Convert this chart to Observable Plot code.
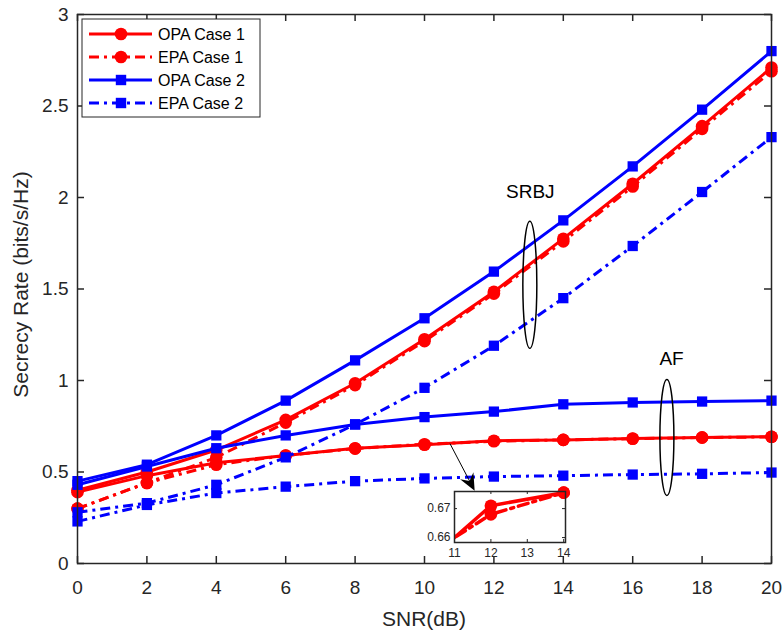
<!DOCTYPE html>
<html>
<head>
<meta charset="utf-8">
<script src="https://cdn.jsdelivr.net/npm/d3@7"></script>
<script src="https://cdn.jsdelivr.net/npm/@observablehq/plot@0.6"></script>
<style>
  html, body { margin: 0; padding: 0; background: #fff; }
  #chart { position: relative; width: 784px; height: 631px; font-family: "Liberation Sans", Arial, sans-serif; }
  #inset { position: absolute; left: 420px; top: 487px; }
</style>
</head>
<body>
<div id="chart"><div id="inset"></div></div>
<script>
// SNR grid (dB)
const snr = [0, 2, 4, 6, 8, 10, 12, 14, 16, 18, 20];

// Secrecy rate, SRBJ scheme
const srbjOpa1 = [0.40, 0.50, 0.62, 0.785, 0.985, 1.225, 1.485, 1.775, 2.075, 2.39, 2.71];
const srbjEpa1 = [0.30, 0.44, 0.58, 0.77, 0.975, 1.215, 1.475, 1.76, 2.06, 2.375, 2.69];
const srbjOpa2 = [0.45, 0.54, 0.70, 0.89, 1.11, 1.34, 1.595, 1.875, 2.17, 2.48, 2.80];
const srbjEpa2 = [0.28, 0.33, 0.43, 0.58, 0.76, 0.96, 1.19, 1.45, 1.735, 2.03, 2.33];

// Secrecy rate, AF scheme
const afOpa1 = [0.39, 0.48, 0.55, 0.59, 0.63, 0.649, 0.671, 0.6755, 0.683, 0.689, 0.693];
const afEpa1 = [0.30, 0.44, 0.54, 0.59, 0.628, 0.652, 0.668, 0.6755, 0.682, 0.688, 0.692];
const afOpa2 = [0.43, 0.53, 0.63, 0.70, 0.76, 0.80, 0.83, 0.87, 0.88, 0.885, 0.89];
const afEpa2 = [0.23, 0.32, 0.385, 0.42, 0.45, 0.465, 0.475, 0.48, 0.486, 0.49, 0.497];

// Legend entries
const seriesNames = ["OPA Case 1", "EPA Case 1", "OPA Case 2", "EPA Case 2"];

// Axis ticks
const xTicks = [0, 2, 4, 6, 8, 10, 12, 14, 16, 18, 20];
const yTicks = [0, 0.5, 1, 1.5, 2, 2.5, 3];
const insetXTicks = [11, 12, 13, 14];
const insetYTicks = [0.66, 0.67];

// Group labels and their enclosing ellipses (data units)
const groupLabels = [
  {label: "SRBJ", x: 13.05, y: 2.03},
  {label: "AF", x: 17.12, y: 1.12}
];
const groupEllipses = [
  {x: 13.05, y: 1.52},
  {x: 17.0, y: 0.686}
];
// Arrow pointing from the AF curves to the zoomed view
const arrowFrom = [10.75, 0.652];
const arrowTo = [11.46, 0.395];

const RED = "#ff0000", BLUE = "#0000ff", AX = "#262626";
const DASHDOT = "10,5,3,5";

const styles = [
  {name: seriesNames[0], color: RED, symbol: "circle", dash: null, groups: [srbjOpa1, afOpa1]},
  {name: seriesNames[1], color: RED, symbol: "circle", dash: DASHDOT, groups: [srbjEpa1, afEpa1]},
  {name: seriesNames[2], color: BLUE, symbol: "square", dash: null, groups: [srbjOpa2, afOpa2]},
  {name: seriesNames[3], color: BLUE, symbol: "square", dash: DASHDOT, groups: [srbjEpa2, afEpa2]}
];

function rowsOf(values, xs = snr) {
  return values.map((v, i) => ({x: xs[i], y: v}));
}

const W = 784, H = 631, mL = 77, mR = 13, mT = 14, mB = 68;
const innerW = W - mL - mR, innerH = H - mT - mB;
const TICK = 7;

const seriesMarks = [];
for (const s of styles) {
  for (const g of s.groups) {
    const rows = rowsOf(g);
    seriesMarks.push(Plot.line(rows, {x: "x", y: "y", stroke: s.color, strokeWidth: 3,
      strokeDasharray: s.dash, strokeLinejoin: "round", strokeLinecap: "butt"}));
    seriesMarks.push(Plot.dot(rows, {x: "x", y: "y", fill: s.color, stroke: "none",
      symbol: s.symbol, r: s.symbol === "circle" ? 6.3 : 5.8}));
  }
}

const chart = Plot.plot({
  width: W, height: H,
  marginLeft: mL, marginRight: mR, marginTop: mT, marginBottom: mB,
  style: {fontFamily: "'Liberation Sans', Arial, sans-serif", background: "#fff", color: AX},
  x: {domain: [0, 20]},
  y: {domain: [0, 3]},
  marks: [
    // inward ticks on all four sides
    Plot.tickX(xTicks, {x: d => d, insetTop: innerH - TICK, stroke: AX, strokeWidth: 1.5}),
    Plot.tickX(xTicks, {x: d => d, insetBottom: innerH - TICK, stroke: AX, strokeWidth: 1.5}),
    Plot.tickY(yTicks, {y: d => d, insetRight: innerW - TICK, stroke: AX, strokeWidth: 1.5}),
    Plot.tickY(yTicks, {y: d => d, insetLeft: innerW - TICK, stroke: AX, strokeWidth: 1.5}),
    ...seriesMarks,
    Plot.text(groupLabels, {x: "x", y: "y", text: "label", fontSize: 19, fill: "#000",
      textAnchor: "middle", lineAnchor: "middle"}),
    Plot.frame({stroke: AX, strokeWidth: 1.5}),
    Plot.axisX({ticks: xTicks, tickSize: 0, tickPadding: 17, fontSize: 19, label: null, fill: AX}),
    Plot.axisY({ticks: yTicks, tickSize: 0, tickPadding: 9, fontSize: 19, label: null, fill: AX,
      tickFormat: d => String(d)})
  ]
});

document.getElementById("chart").prepend(chart);

const svg = d3.select(chart);
const sx = chart.scale("x"), sy = chart.scale("y");
const px = v => sx.apply(v), py = v => sy.apply(v);

// axis titles
svg.append("text").attr("x", mL + innerW / 2).attr("y", 626)
  .attr("text-anchor", "middle").attr("font-size", 21).attr("fill", AX)
  .text("SNR(dB)");
svg.append("text").attr("transform", `translate(28,${mT + innerH / 2 - 4}) rotate(-90)`)
  .attr("text-anchor", "middle").attr("font-size", 21).attr("fill", AX)
  .text("Secrecy Rate (bits/s/Hz)");

// ellipses grouping the curves of each scheme
svg.append("ellipse").attr("cx", px(groupEllipses[0].x)).attr("cy", py(groupEllipses[0].y))
  .attr("rx", 7).attr("ry", 63.5).attr("fill", "none").attr("stroke", "#000").attr("stroke-width", 1.5);
svg.append("ellipse").attr("cx", px(groupEllipses[1].x)).attr("cy", py(groupEllipses[1].y))
  .attr("rx", 7).attr("ry", 58).attr("fill", "none").attr("stroke", "#000").attr("stroke-width", 1.5);

// legend
const lg = svg.append("g").attr("text-anchor", "start");
lg.append("rect").attr("x", 82).attr("y", 19).attr("width", 178).attr("height", 98)
  .attr("fill", "#fff").attr("stroke", AX).attr("stroke-width", 1);
styles.forEach((s, i) => {
  const yy = 34 + i * 23;
  lg.append("line").attr("x1", 89).attr("x2", 152).attr("y1", yy).attr("y2", yy)
    .attr("stroke", s.color).attr("stroke-width", 3).attr("stroke-dasharray", s.dash);
  if (s.symbol === "circle") {
    lg.append("circle").attr("cx", 121).attr("cy", yy).attr("r", 6.3).attr("fill", s.color);
  } else {
    lg.append("rect").attr("x", 121 - 5.2).attr("y", yy - 5.2).attr("width", 10.4).attr("height", 10.4).attr("fill", s.color);
  }
  lg.append("text").attr("x", 158).attr("y", yy).attr("dy", "0.36em").attr("text-anchor", "start")
    .attr("font-size", 16).attr("fill", "#000").text(s.name);
});

// zoomed view of the AF, case 1 curves
const iW = 151, iH = 75, iL = 34, iR = 6, iT = 4, iB = 20;
const iInnerW = iW - iL - iR, iInnerH = iH - iT - iB;
const insetMarks = [];
for (const s of styles.slice(0, 2)) {
  const rows = rowsOf(s.groups[1]).filter(d => d.x >= 10 && d.x <= 14);
  insetMarks.push(Plot.line(rows, {x: "x", y: "y", stroke: s.color, strokeWidth: 3.5,
    strokeDasharray: s.dash, clip: true}));
  insetMarks.push(Plot.dot(rows.filter(d => d.x >= 11), {x: "x", y: "y", fill: s.color, r: 6.3}));
}
const inset = Plot.plot({
  width: iW, height: iH, marginLeft: iL, marginRight: iR, marginTop: iT, marginBottom: iB,
  style: {fontFamily: "'Liberation Sans', Arial, sans-serif", background: "transparent", color: AX, overflow: "visible"},
  x: {domain: [11, 14.05]},
  y: {domain: [0.6583, 0.6759]},
  marks: [
    Plot.frame({fill: "#fff"}),
    Plot.tickX(insetXTicks, {x: d => d, insetTop: iInnerH - 3, stroke: AX, strokeWidth: 1}),
    Plot.tickX(insetXTicks, {x: d => d, insetBottom: iInnerH - 3, stroke: AX, strokeWidth: 1}),
    Plot.tickY(insetYTicks, {y: d => d, insetRight: iInnerW - 3, stroke: AX, strokeWidth: 1}),
    Plot.tickY(insetYTicks, {y: d => d, insetLeft: iInnerW - 3, stroke: AX, strokeWidth: 1}),
    ...insetMarks,
    Plot.frame({stroke: AX, strokeWidth: 1.5}),
    Plot.axisX({ticks: insetXTicks, tickSize: 0, tickPadding: 6, fontSize: 12, label: null, fill: AX,
      tickFormat: d => String(d)}),
    Plot.axisY({ticks: insetYTicks, tickSize: 0, tickPadding: 4, fontSize: 12, label: null, fill: AX,
      tickFormat: d => d.toFixed(2)})
  ]
});
document.getElementById("inset").append(inset);

// arrow drawn in an overlay so it sits above the zoomed view
const ov = d3.select("#chart").append("svg")
  .attr("width", W).attr("height", H)
  .style("position", "absolute").style("left", "0px").style("top", "0px").style("pointer-events", "none");
const x0 = px(arrowFrom[0]), y0 = py(arrowFrom[1]), x1 = px(arrowTo[0]), y1 = py(arrowTo[1]);
const ang = Math.atan2(y1 - y0, x1 - x0);
const hl = 17, hw = 7.5, back = 11;
const ux = Math.cos(ang), uy = Math.sin(ang), nx = -uy, ny = ux;
ov.append("line").attr("x1", x0).attr("y1", y0).attr("x2", x1 - ux * back).attr("y2", y1 - uy * back)
  .attr("stroke", "#000").attr("stroke-width", 1);
ov.append("path").attr("d",
  `M${x1},${y1} L${x1 - ux * hl + nx * hw},${y1 - uy * hl + ny * hw} L${x1 - ux * back},${y1 - uy * back} L${x1 - ux * hl - nx * hw},${y1 - uy * hl - ny * hw} Z`)
  .attr("fill", "#000");
</script>
</body>
</html>
